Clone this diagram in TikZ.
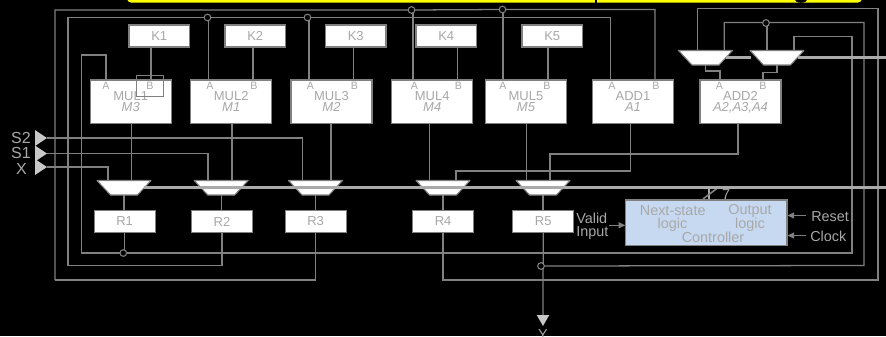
\documentclass[tikz,border=0pt]{standalone}
\usepackage{fontspec}
\setmainfont{Liberation Sans}
\usetikzlibrary{arrows.meta}
\definecolor{wire}{HTML}{808080}
\definecolor{txt}{HTML}{A8A8A8}
\definecolor{tri}{HTML}{C8C8C8}
\definecolor{ctl}{HTML}{C6D9F1}
\definecolor{barc}{HTML}{FFFF00}
\pgfdeclarelayer{bg}
\pgfdeclarelayer{wires}
\pgfdeclarelayer{front}
\pgfsetlayers{bg,wires,main,front}
\tikzset{
  x=0.75pt,y=-0.75pt,
  wirel/.style={draw=wire,line width=0.95pt},
  busl/.style={draw=tri!85!black,line width=1.6pt},
  boxb/.style={rectangle,draw=wire,fill=white,line width=0.9pt,inner sep=0pt,outer sep=0pt,text=txt,align=center},
  kbox/.style={boxb,minimum width=45.4pt,minimum height=16.5pt,font=\fontsize{9.75}{11}\selectfont},
  rbox/.style={boxb,minimum width=45.75pt,minimum height=16.9pt,font=\fontsize{9.75}{11}\selectfont},
  fu/.style={boxb,minimum width=60.75pt,minimum height=32.6pt,font=\fontsize{9.75}{8.25}\selectfont},
  pin/.style={text=txt,inner sep=0pt,font=\fontsize{8}{9}\selectfont},
  lab/.style={text=txt,inner sep=0pt,font=\fontsize{10.8}{12}\selectfont},
  ext/.style={text=txt,inner sep=0pt,font=\fontsize{12}{13}\selectfont,anchor=east},
  muxs/.style={draw=wire,fill=white,line width=0.8pt,line join=round},
  jn/.style={circle,draw=wire,fill=black,line width=0.8pt,minimum size=5pt,inner sep=0pt,outer sep=0pt},
  arr/.style={wirel,-{Triangle[length=5pt,width=4.5pt]},fill=wire},
}
% mux: name, centre x, top y
\newcommand{\muxat}[3]{%
  \coordinate (#1) at (#2,#3+7.2);
  \coordinate (#1in) at (#2,#3);
  \coordinate (#1out) at (#2,#3+14.5);
  \path[muxs] (#2-27,#3) -- (#2+27,#3) -- (#2+13.5,#3+14.5) -- (#2-13.5,#3+14.5) -- cycle;
}
% input port: name, apex x, apex y
\newcommand{\portat}[3]{%
  \coordinate (#1) at (#2,#3);
  \fill[tri] (#2,#3) -- (#2-12,#3-8) -- (#2-12,#3+8) -- cycle;
}
\begin{document}
\begin{tikzpicture}
\useasboundingbox (0,0) rectangle (886,336);
\clip (0,0) rectangle (886,336);
\begin{pgfonlayer}{bg}
\fill[black] (0,0) rectangle (886,336);
\fill[barc,rounded corners=3pt] (127,-20) rectangle (862,2.5);
\fill[black] (595,-2) rectangle (597,3);
\fill[black] (801,-1) ellipse [x radius=6.5,y radius=3.8];
\end{pgfonlayer}

% corners of the long return wires
\coordinate (t1) at (55,10);
\coordinate (t2) at (68,17.5);
\coordinate (t3) at (81.5,55);
\coordinate (b1) at (55,280);
\coordinate (b2) at (68,265.5);
\coordinate (b3) at (81.5,253);
\coordinate (r1) at (878,8.5);
\coordinate (r2) at (864,22.5);
\coordinate (r3) at (852,36.5);
\coordinate (busend1) at (886,187.5);
\coordinate (busend2) at (886,57.5);

% boxes
\node[kbox] (K1) at (159.2,36) {K1};
\node[kbox] (K2) at (255.2,36) {K2};
\node[kbox] (K3) at (355.7,36) {K3};
\node[kbox] (K4) at (446.2,36) {K4};
\node[kbox] (K5) at (552.2,36) {K5};
\node[fu] (MUL1) at (130.7,101.8) {MUL1\\\textit{M3}};
\node[fu] (MUL2) at (231.2,101.8) {MUL2\\\textit{M1}};
\node[fu] (MUL3) at (331.5,101.8) {MUL3\\\textit{M2}};
\node[fu] (MUL4) at (432.2,101.8) {MUL4\\\textit{M4}};
\node[fu] (MUL5) at (526,101.8) {MUL5\\\textit{M5}};
\node[fu] (ADD1) at (633,101.8) {ADD1\\\textit{A1}};
\node[fu] (ADD2) at (740.5,101.8) {ADD2\\\textit{A2,A3,A4}};
\node[rbox] (R1) at (124.6,221.5) {R1};
\node[rbox] (R2) at (222,221.5) {R2};
\node[rbox] (R3) at (315.6,221.5) {R3};
\node[rbox] (R4) at (443.1,221.5) {R4};
\node[rbox] (R5) at (543.2,221.5) {R5};
\muxat{M1}{124}{180.5}
\muxat{M2}{221.2}{180.5}
\muxat{M3}{315.5}{180.5}
\muxat{M4}{443}{180.5}
\muxat{M5}{543}{180.5}
\muxat{TM1}{705.5}{50.5}
\muxat{TM2}{777}{50.5}
\node[rectangle,draw=wire,fill=ctl,line width=0.9pt,minimum width=121.2pt,minimum height=34pt,inner sep=0pt,outer sep=0pt] (CT) at (706.2,222.7) {};
\portat{PS2}{47}{138}
\portat{PS1}{47}{153.5}
\portat{PX}{47}{167}
\coordinate (PY) at (543,315);
\fill[tri] (536.7,315) -- (549.3,315) -- (543,326) -- cycle;

% pin labels of the function units
\foreach \n/\xa/\xb in {MUL1/106/150,MUL2/210/254,MUL3/310.5/354.5,MUL4/414.5/458.5,MUL5/503/547,ADD1/612/656,ADD2/719.5/763}{
  \node[pin] at (\xa,86) {A};
  \node[pin] at (\xb,86) {B};
}
% pin points
\foreach \n/\xa/\xb in {MUL1/106/151,MUL2/208.5/253,MUL3/309/353.3,MUL4/413/457.3,MUL5/503/548,ADD1/610.6/655,ADD2/720/763}{
  \coordinate (\n A) at (\xa,80);
  \coordinate (\n B) at (\xb,80);
}
\coordinate (M1a) at (108,180.5);
\coordinate (M2a) at (208,180.5);
\coordinate (M2b) at (232,180.5);
\coordinate (M3a) at (302.5,180.5);
\coordinate (M3b) at (331,180.5);
\coordinate (M4a) at (429.7,180.5);
\coordinate (M4b) at (456,180.5);
\coordinate (M5a) at (526.7,180.5);
\coordinate (M5b) at (550,180.5);
\coordinate (M1b) at (131.3,180.5);
\coordinate (TM1a) at (697.5,50.5);
\coordinate (TM1b) at (724.3,50.5);
\coordinate (TM2a) at (767,50.5);
\coordinate (TM2b) at (794,50.5);
\coordinate (A1out) at (630.5,123.5);
\coordinate (A2out) at (738,123.5);
\coordinate (A1bend) at (630.5,171);
\coordinate (A2bend) at (738,154);
\coordinate (CTtop) at (709.3,200);
\coordinate (CTin) at (625.3,225.3);
\coordinate (CTrst) at (787.5,215.5);
\coordinate (CTclk) at (787.5,235.5);
\coordinate (viarrow) at (609,225.3);
\coordinate (rstfrom) at (806,215.5);
\coordinate (clkfrom) at (806,235.5);

% junctions
\node[jn] (J1) at (207.5,17.5) {};
\node[jn] (J2) at (307.5,17.5) {};
\node[jn] (J3) at (411.5,10) {};
\node[jn] (J4) at (502.5,9.5) {};
\node[jn] (J5) at (766,23) {};
\node[jn] (J6) at (123.3,253) {};
\node[jn] (J7) at (541,266) {};

% small outlined square on MUL1
\draw[draw=wire,line width=0.7pt] (136.7,75.7) rectangle (163.7,96);

% texts
\node[ext] at (31,138) {S2};
\node[ext] at (31,153) {S1};
\node[ext] at (27,169) {X};
\node[lab] at (543,335) {Y};
\node[lab,anchor=west,align=left,font=\fontsize{10.8}{9.75}\selectfont] at (576,226) {Valid\\Input};
\node[lab] at (672.7,210.7) {Next-state};
\node[lab] at (672.5,224.5) {logic};
\node[lab] at (750,210.7) {Output};
\node[lab] at (750,224.5) {logic};
\node[lab] at (713,237.5) {Controller};
\node[lab,anchor=west] at (811,216.5) {Reset};
\node[lab,anchor=west] at (810,236.5) {Clock};
\node[lab] at (726,194.5) {7};

\begin{pgfonlayer}{wires}
% top wire 1 and the chain through R3, R4
\draw[wirel] (b1) -- (t1) -- (J3) -- (J4) -| (ADD1B);
\draw[wirel] (MUL4A |- J3) -- (MUL4A);
\draw[wirel] (MUL5A |- J4) -- (MUL5A);
\draw[wirel] (R3.south) |- (b1);
\draw[wirel] (R4.south) |- (b1 -| r1) -- (r1) -| (TM1a);
% top wire 2
\draw[wirel] (R2.south) |- (b2) -- (t2) -- (J1) -- (J2) -| (ADD1A);
\draw[wirel] (MUL2A |- J1) -- (MUL2A);
\draw[wirel] (MUL3A |- J2) -- (MUL3A);
\draw[wirel] (J7) -- (b2 -| r2) -- (r2) -| (TM1b);
\draw[wirel] (TM2a |- J5) -- (TM2a);
% wire 3
\draw[wirel] (MUL1A) |- (t3) -- (b3) -- (J6) -- (b3 -| r3) -- (r3) -| (TM2b);
\draw[wirel] (R1.south) -- (R1.south |- J6);
% constants
\draw[wirel] (K1.south -| MUL1B) -- (MUL1B);
\draw[wirel] (K2.south -| MUL2B) -- (MUL2B);
\draw[wirel] (K3.south -| MUL3B) -- (MUL3B);
\draw[wirel] (K4.south -| MUL4B) -- (MUL4B);
\draw[wirel] (K5.south -| MUL5B) -- (MUL5B);
% unit outputs to muxes
\draw[wirel] (M1b |- MUL1.south) -- (M1b);
\draw[wirel] (M2b |- MUL2.south) -- (M2b);
\draw[wirel] (M3b |- MUL3.south) -- (M3b);
\draw[wirel] (M4a |- MUL4.south) -- (M4a);
\draw[wirel] (M5a |- MUL5.south) -- (M5a);
\draw[wirel] (A1out) -- (A1bend) -| (M4b);
\draw[wirel] (A2out) -- (A2bend) -| (M5b);
% inputs
\draw[wirel] (PS2) -| (M3a);
\draw[wirel] (PS1) -| (M2a);
\draw[wirel] (PX) -| (M1a);
% mux to register
\draw[wirel] (M1out) -- (R1.north -| M1out);
\draw[wirel] (M2out) -- (R2.north -| M2out);
\draw[wirel] (M3out) -- (R3.north -| M3out);
\draw[wirel] (M4out) -- (R4.north -| M4out);
\draw[wirel] (M5out) -- (R5.north -| M5out);
% output Y
\draw[wirel] (R5.south) -- (PY);
% add2 input muxes
\draw[wirel] (TM1out) -- ++(0,6) -| (ADD2A);
\draw[wirel] (TM2out) -- ++(0,7.5) -| (ADD2B);
% control
\draw[busl] (CTtop) -- (CTtop |- busend1);
\end{pgfonlayer}

% control arrows and bus slash
\draw[arr] (viarrow) -- (CTin);
\draw[arr] (rstfrom) -- (CTrst);
\draw[arr] (clkfrom) -- (CTclk);
\draw[draw=wire,line width=1.2pt] (703,199) -- (717.5,188);

\begin{pgfonlayer}{front}
\draw[busl] (144,187.5) -- (busend1);
\draw[busl] (726,57.5) -- (751,57.5);
\draw[busl] (798,57.5) -- (busend2);
\end{pgfonlayer}
\end{tikzpicture}
\end{document}
